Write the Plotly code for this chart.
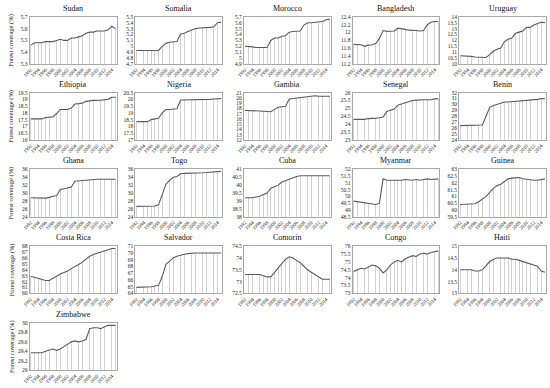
import numpy as np
import plotly.graph_objects as go

years = list(range(1992, 2016))
tick_years = list(range(1992, 2015, 2))

countries = ["Sudan", "Somalia", "Morocco", "Bangladesh", "Uruguay",
             "Ethiopia", "Nigeria", "Gambia", "Senegal", "Benin",
             "Ghana", "Togo", "Cuba", "Myanmar", "Guinea",
             "Costa Rica", "Salvador", "Comorin", "Congo", "Haiti",
             "Zimbabwe"]

sudan = [5.46, 5.48, 5.48, 5.48, 5.49, 5.49, 5.49, 5.50, 5.51, 5.50, 5.50, 5.52,
         5.52, 5.53, 5.54, 5.56, 5.57, 5.57, 5.58, 5.58, 5.58, 5.59, 5.62, 5.60]
somalia = [4.93, 4.93, 4.93, 4.93, 4.93, 4.93, 4.93, 5.00, 5.05, 5.07, 5.07, 5.08,
           5.21, 5.22, 5.25, 5.28, 5.30, 5.31, 5.31, 5.31, 5.32, 5.33, 5.40, 5.41]
morocco = [5.20, 5.20, 5.19, 5.18, 5.18, 5.18, 5.18, 5.30, 5.34, 5.34, 5.37, 5.38,
           5.44, 5.45, 5.45, 5.46, 5.56, 5.60, 5.60, 5.61, 5.61, 5.62, 5.65, 5.66]
bangladesh = [11.70, 11.70, 11.69, 11.65, 11.68, 11.69, 11.72, 11.85, 12.05, 12.03, 12.03, 12.04,
              12.11, 12.10, 12.08, 12.06, 12.06, 12.05, 12.04, 12.05, 12.20, 12.26, 12.28, 12.28]
uruguay = [10.7, 10.7, 10.7, 10.65, 10.6, 10.6, 10.55, 10.55, 10.8, 11.1, 11.25, 11.35,
           11.9, 12.1, 12.2, 12.6, 12.7, 12.8, 13.1, 13.1, 13.3, 13.4, 13.55, 13.5]
ethiopia = [17.55, 17.55, 17.55, 17.55, 17.65, 17.7, 17.7, 17.95, 18.25, 18.25, 18.25, 18.35,
            18.65, 18.68, 18.72, 18.85, 18.9, 18.92, 18.92, 18.93, 18.95, 19.0, 19.15, 19.15]
nigeria = [18.35, 18.35, 18.35, 18.35, 18.5, 18.55, 18.6, 19.0, 19.25, 19.25, 19.3, 19.3,
           19.95, 19.95, 19.95, 19.97, 19.98, 20.0, 20.0, 20.0, 20.0, 20.02, 20.05, 20.05]
gambia = [17.6, 17.6, 17.55, 17.5, 17.5, 17.45, 17.4, 17.35, 17.8, 18.2, 18.3, 18.4,
          19.8, 19.9, 20.0, 20.05, 20.1, 20.2, 20.35, 20.4, 20.3, 20.3, 20.3, 20.3]
senegal = [24.3, 24.3, 24.3, 24.3, 24.35, 24.35, 24.38, 24.4, 24.45, 24.8, 24.9, 24.95,
           25.2, 25.3, 25.35, 25.42, 25.5, 25.52, 25.55, 25.55, 25.55, 25.55, 25.6, 25.6]
benin = [26.4, 26.4, 26.4, 26.4, 26.4, 26.4, 26.5, 28.0, 29.5, 29.8, 30.0, 30.1,
         30.4, 30.4, 30.45, 30.5, 30.6, 30.7, 30.7, 30.7, 30.75, 30.85, 31.0, 30.95]
ghana = [28.8, 28.8, 28.8, 28.8, 28.7, 28.9, 29.2, 29.3, 30.9, 31.1, 31.3, 31.5,
         33.0, 33.1, 33.1, 33.2, 33.3, 33.4, 33.5, 33.5, 33.5, 33.5, 33.5, 33.5]
togo = [26.6, 26.6, 26.6, 26.6, 26.6, 26.7, 27.0, 29.5, 32.2, 33.2, 34.0, 34.2,
        34.9, 35.0, 35.0, 35.0, 35.05, 35.1, 35.15, 35.2, 35.25, 35.3, 35.4, 35.5]
cuba = [39.2, 39.2, 39.2, 39.25, 39.3, 39.4, 39.5, 39.8, 39.9, 40.0, 40.2, 40.3,
        40.4, 40.5, 40.55, 40.6, 40.6, 40.6, 40.58, 40.6, 40.6, 40.6, 40.62, 40.6]
myanmar = [49.65, 49.6, 49.6, 49.55, 49.5, 49.45, 49.4, 49.5, 51.3, 51.2, 51.2, 51.15,
           51.2, 51.2, 51.25, 51.2, 51.2, 51.25, 51.2, 51.25, 51.3, 51.25, 51.3, 51.3]
guinea = [60.4, 60.4, 60.4, 60.4, 60.45, 60.6, 60.8, 61.0, 61.3, 61.6, 61.8, 61.9,
          62.1, 62.3, 62.35, 62.4, 62.4, 62.3, 62.25, 62.2, 62.2, 62.2, 62.25, 62.3]
costa_rica = [62.9, 62.7, 62.5, 62.3, 62.2, 62.2, 62.5, 62.9, 63.3, 63.5, 63.8, 64.2,
              64.5, 64.9, 65.3, 65.8, 66.3, 66.6, 66.8, 67.0, 67.2, 67.5, 67.6, 67.6]
salvador = [64.9, 64.9, 64.9, 64.9, 65.0, 65.1, 65.2, 66.5, 68.3, 68.8, 69.3, 69.5,
            69.7, 69.8, 69.9, 70.0, 70.0, 70.0, 70.0, 70.0, 70.0, 70.0, 70.0, 70.0]
comorin = [73.3, 73.3, 73.3, 73.3, 73.3, 73.25, 73.2, 73.2, 73.4, 73.6, 73.8, 73.95,
           74.05, 74.0, 73.9, 73.8, 73.65, 73.5, 73.4, 73.3, 73.2, 73.1, 73.1, 73.1]
congo = [74.4, 74.5, 74.6, 74.55, 74.7, 74.8, 74.75, 74.6, 74.3, 74.5, 74.8, 75.0,
         75.1, 75.0, 75.2, 75.3, 75.4, 75.35, 75.5, 75.55, 75.5, 75.6, 75.65, 75.7]
haiti = [14.0, 14.0, 14.0, 14.0, 13.95, 13.95, 14.0, 14.2, 14.35, 14.45, 14.5, 14.5,
         14.5, 14.5, 14.45, 14.45, 14.4, 14.35, 14.3, 14.25, 14.2, 14.15, 13.95, 13.9]
zimbabwe = [29.37, 29.37, 29.37, 29.37, 29.4, 29.42, 29.45, 29.42, 29.45, 29.5, 29.55, 29.6,
            29.62, 29.6, 29.62, 29.65, 29.88, 29.9, 29.9, 29.88, 29.92, 29.95, 29.95, 29.95]

y_min = [5.3, 4.7, 4.9, 11.2, 10.0,
         16.0, 17.0, 12.0, 23.0, 24.0,
         24.0, 24.0, 38.0, 48.5, 59.5,
         60.0, 64.0, 72.5, 73.0, 13.0,
         29.0]
y_max = [5.7, 5.5, 5.7, 12.4, 14.0,
         19.5, 20.5, 21.0, 26.0, 32.0,
         36.0, 36.0, 41.0, 52.0, 63.0,
         68.0, 71.0, 74.5, 76.0, 15.0,
         30.0]
y_step = [0.1, 0.1, 0.1, 0.2, 0.5,
          0.5, 0.5, 1.0, 0.5, 1.0,
          2.0, 2.0, 0.5, 0.5, 0.5,
          1.0, 1.0, 0.5, 0.5, 0.5,
          0.2]

series = [sudan, somalia, morocco, bangladesh, uruguay,
          ethiopia, nigeria, gambia, senegal, benin,
          ghana, togo, cuba, myanmar, guinea,
          costa_rica, salvador, comorin, congo, haiti,
          zimbabwe]

W, H = 550, 388
col_left = [23, 130, 240, 350, 458]
plot_w = 88
row_top = [14, 91, 169, 247, 325]
plot_h = 48
FONT = "Liberation Serif, Times New Roman, serif"

fig = go.Figure()
layout = {}
annotations = []
for i, (name, vals) in enumerate(zip(countries, series)):
    r, c = divmod(i, 5)
    n = i + 1
    xa = "x" if n == 1 else f"x{n}"
    ya = "y" if n == 1 else f"y{n}"
    xk = "xaxis" if n == 1 else f"xaxis{n}"
    yk = "yaxis" if n == 1 else f"yaxis{n}"
    x0 = col_left[c] / W
    x1 = (col_left[c] + plot_w) / W
    y1 = 1 - row_top[r] / H
    y0 = 1 - (row_top[r] + plot_h) / H

    fig.add_trace(go.Bar(x=years, y=vals, width=0.2, marker_color="#d2d2d2",
                         marker_line_width=0, xaxis=xa, yaxis=ya,
                         hoverinfo="skip", showlegend=False))
    fig.add_trace(go.Scatter(x=years, y=vals, mode="lines",
                             line=dict(color="#5a5a5a", width=1.1),
                             xaxis=xa, yaxis=ya, showlegend=False))

    yt = np.round(np.arange(y_min[i], y_max[i] + y_step[i] / 2, y_step[i]), 3)
    layout[xk] = dict(domain=[x0, x1], anchor=ya, range=[1991.7, 2015.3],
                      tickmode="array", tickvals=tick_years,
                      ticktext=[str(t) for t in tick_years], tickangle=-45,
                      tickfont=dict(size=5, family=FONT, color="#222"),
                      showline=True, mirror=True, linecolor="#a8a8a8", linewidth=1,
                      showgrid=False, zeroline=False, ticks="", fixedrange=True)
    layout[yk] = dict(domain=[y0, y1], anchor=xa, range=[y_min[i], y_max[i]],
                      tickmode="array", tickvals=list(yt),
                      ticktext=[f"{v:g}" for v in yt],
                      tickfont=dict(size=5.5, family=FONT, color="#222"),
                      showline=True, mirror=True, linecolor="#a8a8a8", linewidth=1,
                      showgrid=False, zeroline=False, ticks="", fixedrange=True)
    annotations.append(dict(text=name, x=(x0 + x1) / 2, y=y1, xref="paper", yref="paper",
                            xanchor="center", yanchor="bottom", yshift=2, showarrow=False,
                            font=dict(size=8, family=FONT, color="#111")))
    if c == 0:
        annotations.append(dict(text="Forest coverage (%)", x=4.5 / W, y=(y0 + y1) / 2,
                                xref="paper", yref="paper", textangle=-90,
                                xanchor="center", yanchor="middle", showarrow=False,
                                font=dict(size=6.5, family=FONT, color="#111")))

fig.update_layout(width=W, height=H, margin=dict(l=0, r=0, t=0, b=0),
                  paper_bgcolor="white", plot_bgcolor="white",
                  annotations=annotations, bargap=0, **layout)

fig.write_html("out.html", config={"displayModeBar": False, "staticPlot": True},
               post_script="document.body.style.margin='0';document.body.style.overflow='hidden';")
